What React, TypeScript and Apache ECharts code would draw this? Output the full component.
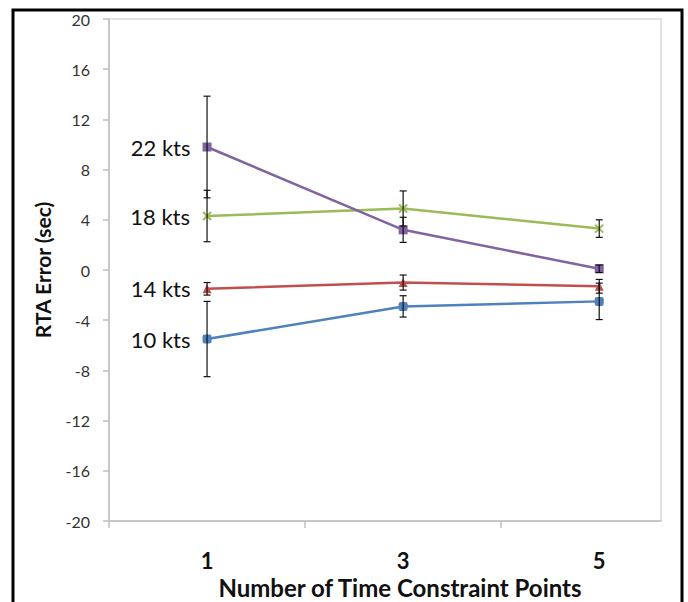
import React, { useEffect, useRef } from "react";
import * as echarts from "echarts";

const xValues = [1, 3, 5];
const seriesNames = ["10 kts", "14 kts", "18 kts", "22 kts"];
const kts10 = [-5.5, -2.9, -2.5];
const kts14 = [-1.5, -1.0, -1.3];
const kts18 = [4.3, 4.9, 3.3];
const kts22 = [9.8, 3.2, 0.1];
const err10 = [3.0, 0.85, 1.45];
const err14 = [0.5, 0.6, 0.55];
const err18 = [2.05, 1.4, 0.7];
const err22 = [4.05, 1.0, 0.3];
const yTicks = [-20, -16, -12, -8, -4, 0, 4, 8, 12, 16, 20];

const FONT = "Lato, 'Open Sans', sans-serif";

export default function App() {
  const ref = useRef<HTMLDivElement>(null);
  useEffect(() => {
    document.body.style.margin = "0";
    const chart = echarts.init(ref.current!, null, { renderer: "svg" });
    const values = [kts10, kts14, kts18, kts22];
    const errs = [err10, err14, err18, err22];
    const colors = ["#4F81BD", "#C0504D", "#9BBB59", "#8064A2"];
    const symbols = [
      "roundRect",
      "triangle",
      "path://M0,0L10,10M10,0L0,10",
      "rect",
    ];
    const lineSeries = values.map((vals, si) => ({
      type: "line",
      name: seriesNames[si],
      z: 3,
      symbol: symbols[si],
      symbolSize: si === 2 ? 8 : 9,
      lineStyle: { color: colors[si], width: 2.5 },
      itemStyle: {
        color: colors[si],
        borderColor: colors[si],
        borderWidth: si === 2 ? 2 : 0,
      },
      data: vals.map((v, i) =>
        i === 0
          ? {
              value: [xValues[i], v],
              label: {
                show: true,
                position: "left",
                distance: 12,
                formatter: seriesNames[si],
                fontSize: 22,
                fontFamily: FONT,
                color: "#111",
              },
            }
          : { value: [xValues[i], v] }
      ),
    }));
    const errData: number[][] = [];
    values.forEach((vals, si) =>
      vals.forEach((v, i) => {
        errData.push([xValues[i], v - errs[si][i], v + errs[si][i]]);
      })
    );
    const errSeries = {
      type: "custom",
      z: 4,
      silent: true,
      encode: { x: 0, y: [1, 2] },
      data: errData,
      renderItem: (params: any, api: any) => {
        const x = api.value(0);
        const lo = api.coord([x, api.value(1)]);
        const hi = api.coord([x, api.value(2)]);
        const w = 3.5;
        const style = { stroke: "#111", lineWidth: 1.2 };
        return {
          type: "group",
          children: [
            { type: "line", shape: { x1: lo[0], y1: lo[1], x2: hi[0], y2: hi[1] }, style },
            { type: "line", shape: { x1: lo[0] - w, y1: lo[1], x2: lo[0] + w, y2: lo[1] }, style },
            { type: "line", shape: { x1: hi[0] - w, y1: hi[1], x2: hi[0] + w, y2: hi[1] }, style },
          ],
        };
      },
    };
    chart.setOption({
      animation: false,
      graphic: [
        {
          type: "rect",
          shape: { x: 13, y: 10, width: 669, height: 640 },
          style: { fill: "none", stroke: "#000", lineWidth: 3 },
          z: 100,
        },
      ],
      grid: {
        left: 109,
        right: 27,
        top: 19,
        bottom: 81,
        show: true,
        borderColor: "#d9d9d9",
        borderWidth: 1.5,
        outerBoundsMode: "none",
        containLabel: false,
      },
      xAxis: {
        type: "value",
        min: 0,
        max: 5.63,
        name: "Number of Time Constraint Points",
        nameLocation: "middle",
        nameGap: 51,
        nameTextStyle: {
          fontSize: 24,
          fontWeight: "bold",
          fontFamily: FONT,
          color: "#111",
          padding: [0, 0, 0, 30],
        },
        splitLine: { show: false },
        axisLine: { show: true, onZero: false, lineStyle: { color: "#bfbfbf", width: 1.5 } },
        axisTick: {
          show: true,
          length: 7,
          customValues: [0, 2, 4],
          lineStyle: { color: "#bfbfbf", width: 1.5 },
        },
        axisLabel: {
          customValues: xValues,
          margin: 28,
          fontSize: 22,
          fontWeight: "bold",
          fontFamily: FONT,
          color: "#111",
        },
      },
      yAxis: {
        type: "value",
        min: -20,
        max: 20,
        interval: 4,
        name: "RTA Error (sec)",
        nameLocation: "middle",
        nameRotate: 90,
        nameGap: 56,
        nameTextStyle: { fontSize: 21, fontWeight: "bold", fontFamily: FONT, color: "#111" },
        splitLine: { show: false },
        axisLine: { show: true, onZero: false, lineStyle: { color: "#bfbfbf", width: 1.5 } },
        axisTick: {
          show: true,
          length: 6,
          customValues: yTicks,
          lineStyle: { color: "#bfbfbf", width: 1.5 },
        },
        axisLabel: {
          customValues: yTicks,
          margin: 19,
          fontSize: 16,
          fontFamily: FONT,
          color: "#333",
        },
      },
      series: [...lineSeries, errSeries],
    });
    return () => chart.dispose();
  }, []);
  return <div ref={ref} style={{ width: 688, height: 602 }} />;
}
